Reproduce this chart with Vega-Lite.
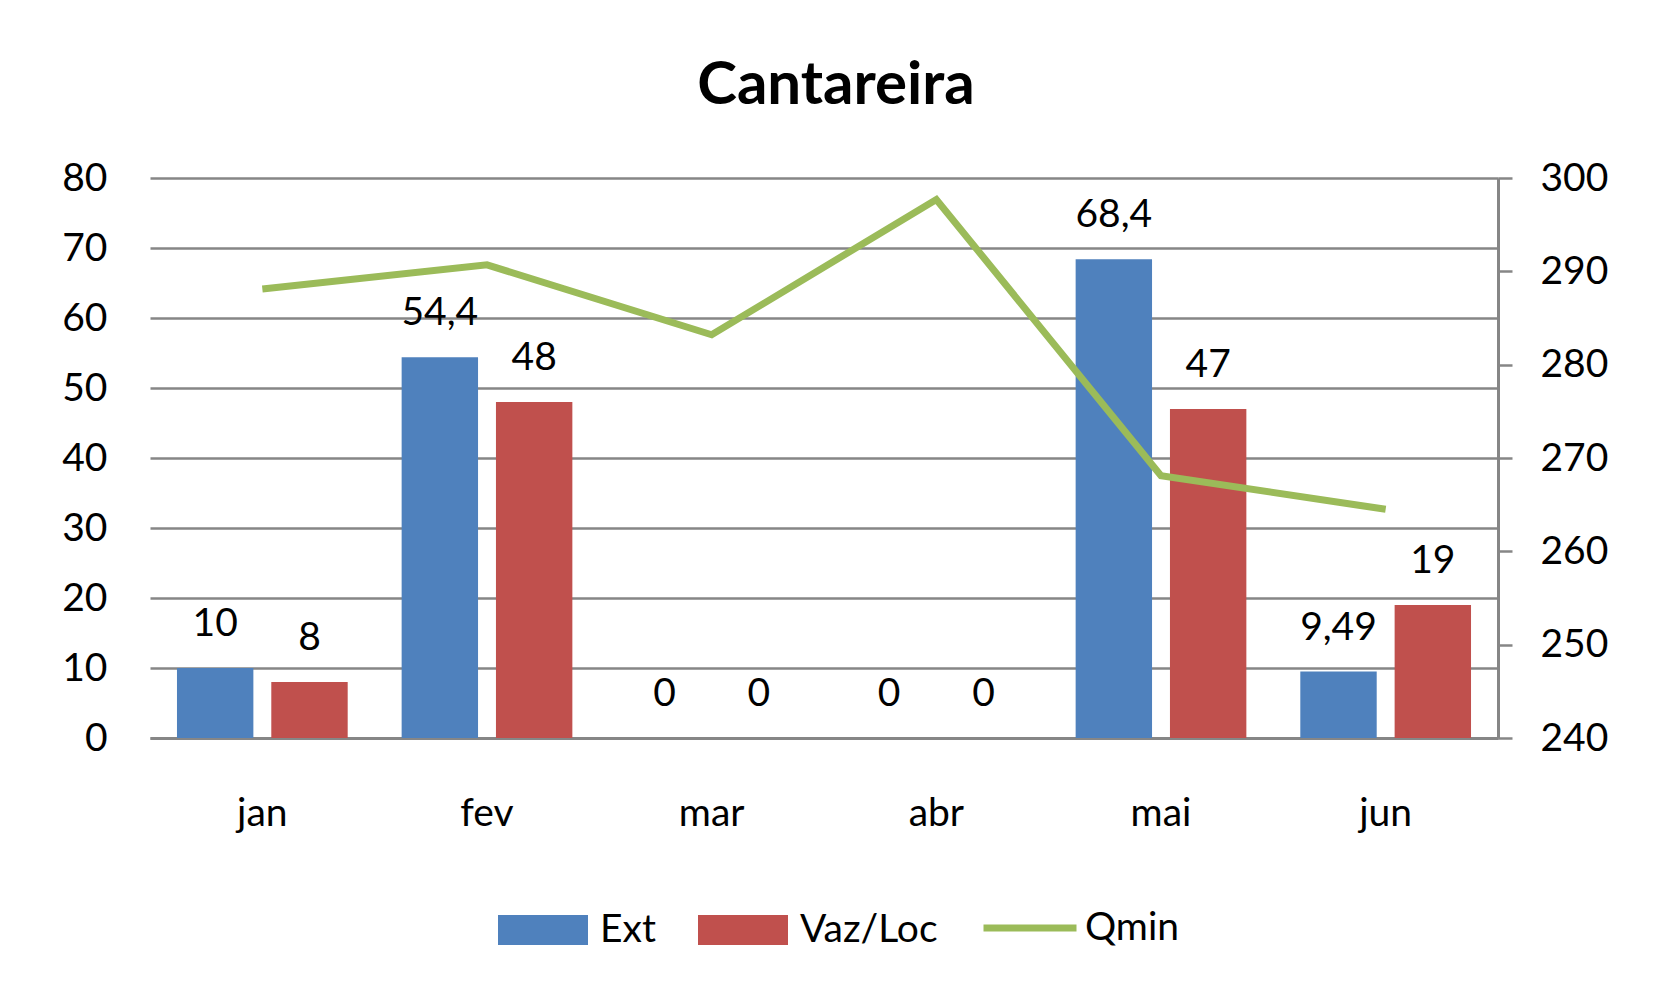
{
  "$schema": "https://vega.github.io/schema/vega-lite/v6.json",
  "width": 1348,
  "height": 560,
  "autosize": {"type": "none"},
  "padding": {"left": 150, "top": 178, "right": 162, "bottom": 257},
  "background": "white",
  "title": {
    "text": "Cantareira",
    "font": "Lato",
    "fontSize": 60,
    "fontWeight": "bold",
    "color": "black",
    "anchor": "middle",
    "offset": 42,
    "dx": 12
  },
  "datasets": {
    "bars": [
      {"month": "jan", "series": "Ext", "value": 10, "label": "10"},
      {"month": "jan", "series": "Vaz/Loc", "value": 8, "label": "8"},
      {"month": "fev", "series": "Ext", "value": 54.4, "label": "54,4"},
      {"month": "fev", "series": "Vaz/Loc", "value": 48, "label": "48"},
      {"month": "mar", "series": "Ext", "value": 0, "label": "0"},
      {"month": "mar", "series": "Vaz/Loc", "value": 0, "label": "0"},
      {"month": "abr", "series": "Ext", "value": 0, "label": "0"},
      {"month": "abr", "series": "Vaz/Loc", "value": 0, "label": "0"},
      {"month": "mai", "series": "Ext", "value": 68.4, "label": "68,4"},
      {"month": "mai", "series": "Vaz/Loc", "value": 47, "label": "47"},
      {"month": "jun", "series": "Ext", "value": 9.49, "label": "9,49"},
      {"month": "jun", "series": "Vaz/Loc", "value": 19, "label": "19"}
    ],
    "line": [
      {"month": "jan", "series": "Qmin", "Qmin": 288.1},
      {"month": "fev", "series": "Qmin", "Qmin": 290.7},
      {"month": "mar", "series": "Qmin", "Qmin": 283.2},
      {"month": "abr", "series": "Qmin", "Qmin": 297.7},
      {"month": "mai", "series": "Qmin", "Qmin": 268.1},
      {"month": "jun", "series": "Qmin", "Qmin": 264.5}
    ]
  },
  "encoding": {
    "x": {
      "field": "month",
      "type": "nominal",
      "sort": ["jan", "fev", "mar", "abr", "mai", "jun"],
      "scale": {"paddingInner": 0, "paddingOuter": 0},
      "axis": {
        "title": null,
        "labelAngle": 0,
        "ticks": false,
        "domain": true,
        "domainColor": "#868686",
        "domainWidth": 3,
        "labelPadding": 56,
        "grid": false
      }
    }
  },
  "layer": [
    {
      "data": {"name": "bars"},
      "mark": {"type": "bar"},
      "encoding": {
        "xOffset": {
          "field": "series",
          "type": "nominal",
          "sort": ["Ext", "Vaz/Loc"],
          "scale": {"paddingInner": 0.19, "paddingOuter": 0.286}
        },
        "y": {
          "field": "value",
          "type": "quantitative",
          "scale": {"domain": [0, 80], "nice": false},
          "axis": {
            "title": null,
            "orient": "left",
            "values": [0, 10, 20, 30, 40, 50, 60, 70, 80],
            "grid": true,
            "gridColor": "#868686",
            "gridWidth": 2.5,
            "domain": false,
            "ticks": false,
            "labelPadding": 43
          }
        },
        "color": {
          "field": "series",
          "type": "nominal",
          "scale": {"domain": ["Ext", "Vaz/Loc"], "range": ["#4F81BD", "#C0504D"]},
          "legend": {
            "title": null,
            "orient": "none",
            "direction": "horizontal",
            "legendX": 363,
            "legendY": 722,
            "symbolType": "M-1.5,-0.5H1.5V0.5H-1.5Z",
            "symbolSize": 3600,
            "symbolStrokeWidth": 0,
            "labelOffset": 27,
            "columnPadding": 42
          }
        }
      }
    },
    {
      "data": {"name": "bars"},
      "mark": {"type": "text", "baseline": "middle", "align": "center", "dy": -44, "font": "Lato", "fontSize": 39, "color": "black"},
      "encoding": {
        "xOffset": {
          "field": "series",
          "type": "nominal",
          "sort": ["Ext", "Vaz/Loc"],
          "scale": {"paddingInner": 0.19, "paddingOuter": 0.286}
        },
        "y": {
          "field": "value",
          "type": "quantitative",
          "scale": {"domain": [0, 80], "nice": false},
          "axis": null
        },
        "text": {"field": "label", "type": "nominal"}
      }
    },
    {
      "data": {"name": "line"},
      "mark": {"type": "line", "strokeWidth": 7, "strokeJoin": "miter"},
      "encoding": {
        "y": {
          "field": "Qmin",
          "type": "quantitative",
          "scale": {"domain": [240, 300], "nice": false, "zero": false},
          "axis": {
            "title": null,
            "orient": "right",
            "values": [240, 250, 260, 270, 280, 290, 300],
            "grid": false,
            "domain": true,
            "domainColor": "#868686",
            "domainWidth": 3,
            "ticks": true,
            "tickSize": 14,
            "tickColor": "#868686",
            "tickWidth": 2.5,
            "labelPadding": 28
          }
        },
        "stroke": {
          "field": "series",
          "type": "nominal",
          "scale": {"domain": ["Qmin"], "range": ["#9BBB59"]},
          "legend": {
            "title": null,
            "orient": "none",
            "direction": "horizontal",
            "legendX": 830,
            "legendY": 700,
            "symbolType": "stroke",
            "symbolSize": 8649,
            "symbolStrokeWidth": 7,
            "labelOffset": 5
          }
        }
      }
    }
  ],
  "resolve": {"scale": {"y": "independent"}},
  "config": {
    "view": {"stroke": null},
    "font": "Lato",
    "axis": {"labelFont": "Lato", "labelFontSize": 39, "labelColor": "black"},
    "legend": {"labelFont": "Lato", "labelFontSize": 39, "labelColor": "black"}
  }
}
